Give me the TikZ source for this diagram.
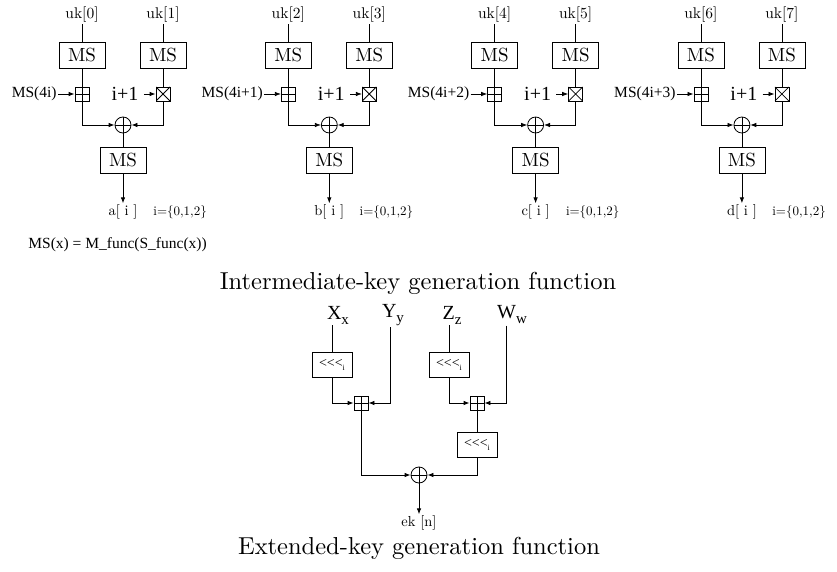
\documentclass[tikz,border=0pt]{standalone}
\usepackage{fontspec}
\newfontfamily\cmtenfont{lmroman10-regular.otf}
\newfontfamily\timesfont{Liberation Serif}
\usetikzlibrary{arrows.meta}

\tikzset{
	>={Latex[length=6pt,width=4.5pt]},
	keylbl/.style={inner sep=1pt, font=\cmtenfont\fontsize{15.5}{16}\selectfont},
	outlbl/.style={inner sep=1pt, font=\cmtenfont\fontsize{14.5}{15}\selectfont},
	rnglbl/.style={inner sep=1pt, font=\cmtenfont\fontsize{13}{14}\selectfont},
	timeslbl/.style={inner sep=1pt, font=\timesfont\fontsize{15.5}{16}\selectfont},
	inclbl/.style={inner sep=1pt, font=\timesfont\fontsize{20}{20}\selectfont},
	varlbl/.style={inner sep=1pt, font=\timesfont\fontsize{20}{20}\selectfont},
	caption/.style={font=\cmtenfont\fontsize{24.5}{26}\selectfont},
	msbox/.style={draw, minimum width=46pt, minimum height=26pt, inner sep=0pt, font=\cmtenfont\fontsize{19}{19}\selectfont},
	rotbox/.style={draw, minimum width=40pt, minimum height=25pt, inner sep=0pt, font=\timesfont\fontsize{14}{14}\selectfont},
	addbox/.style={draw, minimum size=14pt, inner sep=0pt,
		path picture={\draw (path picture bounding box.north) -- (path picture bounding box.south)
			(path picture bounding box.west) -- (path picture bounding box.east);}},
	mulbox/.style={draw, minimum size=14pt, inner sep=0pt,
		path picture={\draw (path picture bounding box.north west) -- (path picture bounding box.south east)
			(path picture bounding box.south west) -- (path picture bounding box.north east);}},
	xorc/.style={draw, circle, minimum size=16pt, inner sep=0pt,
		path picture={\draw (path picture bounding box.north) -- (path picture bounding box.south)
			(path picture bounding box.west) -- (path picture bounding box.east);}},
}

\newcommand{\rotl}{<<<\raisebox{-3pt}{\fontsize{8}{8}\selectfont i}}
\newcommand{\subv}[1]{\raisebox{-5pt}{\fontsize{15}{15}\selectfont #1}}

\begin{document}
\begin{tikzpicture}[x=1pt, y=-1pt, line width=0.8pt]
	\useasboundingbox (0,0) rectangle (837,572);

	% intermediate-key blocks
	\foreach \blk/\outv/\rcv in {0/a/4i, 1/b/4i+1, 2/c/4i+2, 3/d/4i+3} {
		\pgfmathsetmacro\x{82+206.3*\blk}
		\pgfmathtruncatemacro\ka{2*\blk}
		\pgfmathtruncatemacro\kb{2*\blk+1}
		\node[keylbl] (ukl\blk) at (\x,15) {uk[\ka]};
		\node[keylbl] (ukr\blk) at (\x+81,15) {uk[\kb]};
		\node[msbox] (msl\blk) at (\x,55) {MS};
		\node[msbox] (msr\blk) at (\x+81,55) {MS};
		\node[addbox] (add\blk) at (\x,94) {};
		\node[mulbox] (mul\blk) at (\x+81,94) {};
		\node[timeslbl, anchor=east] (rc\blk) at (\x-24,94) {MS(\rcv)};
		\node[inclbl] (inc\blk) at (\x+43,94) {i+1};
		\node[xorc] (xor\blk) at (\x+41,125) {};
		\node[msbox] (mso\blk) at (\x+41,160) {MS};
		\node[outlbl] (out\blk) at (\x+41,212) {\outv[ i ]};
		\node[rnglbl, anchor=west] (rng\blk) at (\x+70,212) {i=\{0,1,2\}};

		\draw (ukl\blk) -- (msl\blk) -- (add\blk);
		\draw (ukr\blk) -- (msr\blk) -- (mul\blk);
		\draw[->] (rc\blk) -- (add\blk);
		\draw[->] (inc\blk.east) ++(4,0) -- (mul\blk);
		\draw[->] (add\blk) |- (xor\blk);
		\draw[->] (mul\blk) |- (xor\blk);
		\draw (xor\blk) -- (mso\blk);
		\draw[->] (mso\blk) -- (out\blk);
	}

	\node[timeslbl, anchor=west] (msdef) at (27,245) {MS(x) = M\_func(S\_func(x))};
	\node[caption] (capa) at (418,283) {Intermediate-key generation function};

	% extended-key inputs
	\node[varlbl] (xin) at (338,315) {X\subv{x}};
	\node[varlbl] (yin) at (393,315) {Y\subv{y}};
	\node[varlbl] (zin) at (452,315) {Z\subv{z}};
	\node[varlbl] (win) at (512,315) {W\subv{w}};

	\node[rotbox] (rota) at (332,365) {\rotl};
	\node[rotbox] (rotb) at (449,365) {\rotl};
	\node[addbox] (adda) at (361,403) {};
	\node[addbox] (addb) at (477,403) {};
	\node[rotbox] (rotc) at (477,445) {\rotl};
	\node[xorc] (xorf) at (419,475) {};
	\node[outlbl] (ek) at (419,523) {ek [n]};

	\draw (xin.south -| rota.north) -- (rota.north);
	\draw (zin.south -| rotb.north) -- (rotb.north);
	\draw[->] (rota) |- (adda);
	\draw[->] (yin.south -| 390,0) |- (adda);
	\draw[->] (rotb) |- (addb);
	\draw[->] (win.south -| 506,0) |- (addb);
	\draw (addb) -- (rotc);
	\draw[->] (adda) |- (xorf);
	\draw[->] (rotc) |- (xorf);
	\draw[->] (xorf) -- (ek);

	\node[caption] (capb) at (419,548) {Extended-key generation function};
\end{tikzpicture}
\end{document}
